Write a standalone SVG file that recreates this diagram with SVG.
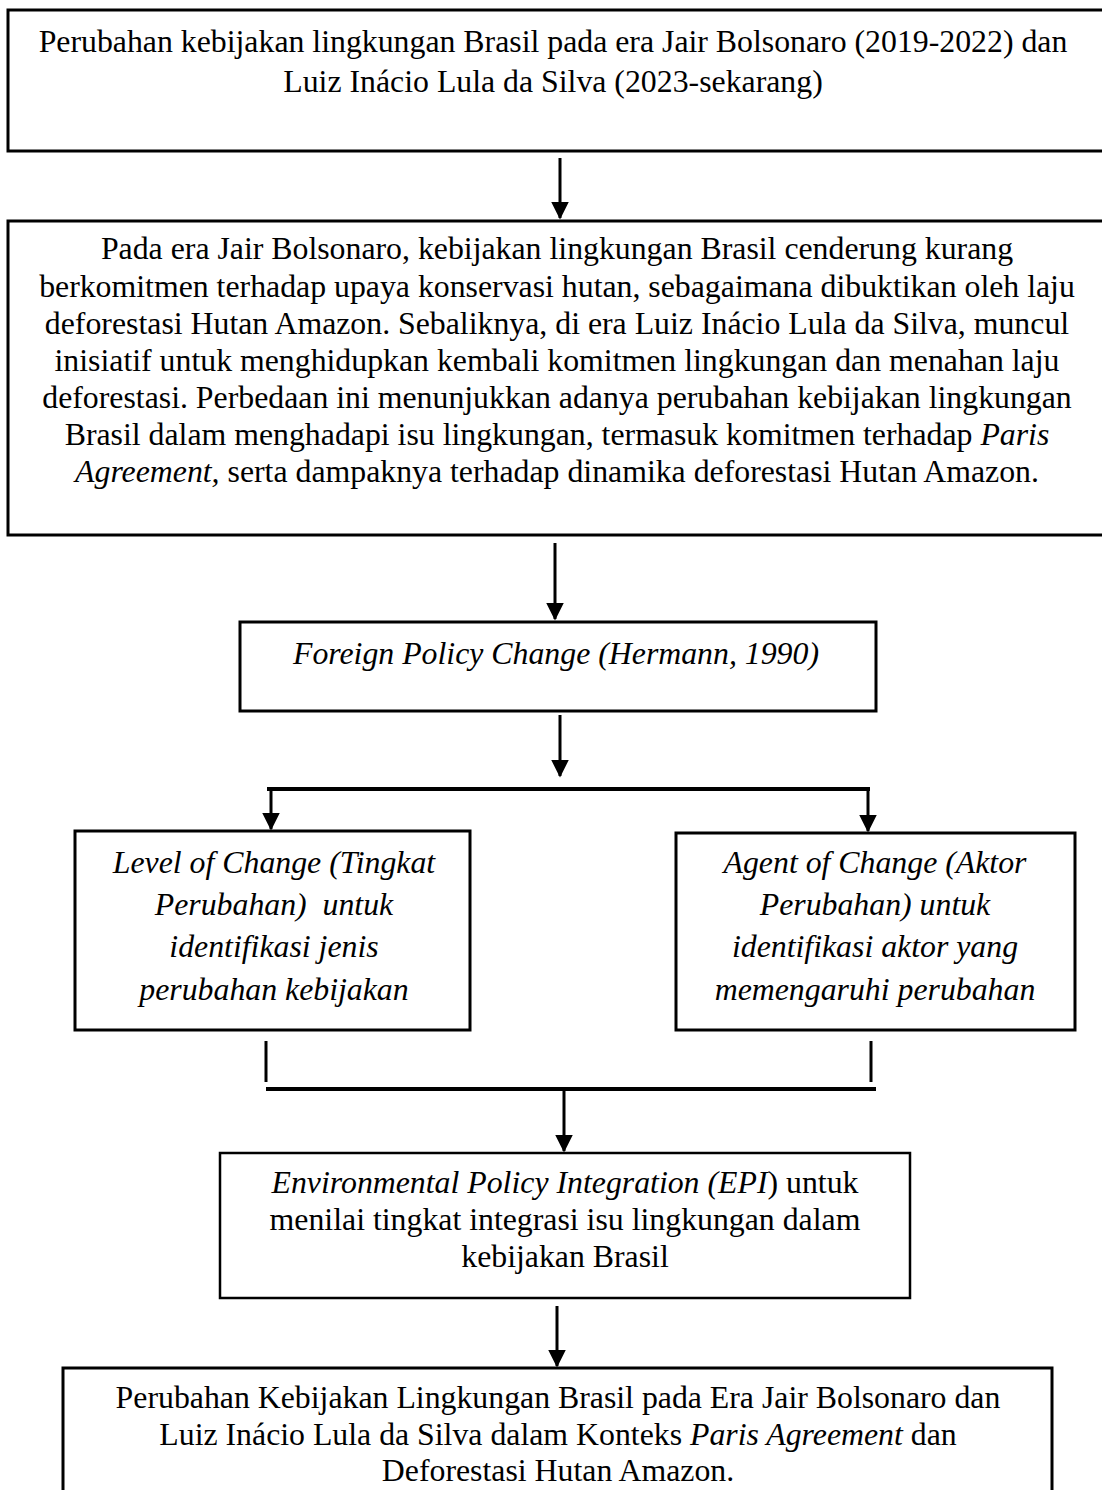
<svg xmlns="http://www.w3.org/2000/svg" width="1102" height="1490" viewBox="0 0 1102 1490">
<style>
text{font-family:"Liberation Serif","Times New Roman",serif;font-size:31.8px;fill:#000;text-anchor:middle}
.i{font-style:italic}
.box{fill:#fff;stroke:#000;stroke-width:3}
.thin{stroke-width:2.5}
.ln{stroke:#000;stroke-width:3;fill:none}
.bar{stroke:#000;stroke-width:4;fill:none}
</style>
<defs>
<marker id="ah" markerWidth="6" markerHeight="6" refX="5.5" refY="3" orient="auto" markerUnits="strokeWidth" viewBox="0 0 6 6">
<path d="M0,0 L6,3 L0,6 Z" fill="#000"/>
</marker>
</defs>
<rect width="1102" height="1490" fill="#fff"/>
<g id="connectors">
<line class="ln" x1="560" y1="158" x2="560" y2="218" marker-end="url(#ah)"/>
<line class="ln" x1="555" y1="543" x2="555" y2="619" marker-end="url(#ah)"/>
<line class="ln" x1="560" y1="715" x2="560" y2="776" marker-end="url(#ah)"/>
<line class="bar" x1="267" y1="789" x2="870" y2="789"/>
<line class="ln" x1="271" y1="789" x2="271" y2="829" marker-end="url(#ah)"/>
<line class="ln" x1="868" y1="789" x2="868" y2="831" marker-end="url(#ah)"/>
<line class="ln" x1="266" y1="1041" x2="266" y2="1082"/>
<line class="ln" x1="871" y1="1041" x2="871" y2="1082"/>
<line class="bar" x1="266" y1="1089" x2="876" y2="1089"/>
<line class="ln" x1="564" y1="1089" x2="564" y2="1151" marker-end="url(#ah)"/>
<line class="ln" x1="557" y1="1306" x2="557" y2="1366" marker-end="url(#ah)"/>
</g>
<g id="node-1">
<rect class="box" x="8" y="10" width="1100" height="141"/>
<text x="553" y="52">Perubahan kebijakan lingkungan Brasil pada era Jair Bolsonaro (2019-2022) dan</text>
<text x="553" y="92">Luiz Inácio Lula da Silva (2023-sekarang)</text>
</g>
<g id="node-2">
<rect class="box" x="8" y="221" width="1100" height="314"/>
<text x="557" y="259">Pada era Jair Bolsonaro, kebijakan lingkungan Brasil cenderung kurang</text>
<text x="557" y="297">berkomitmen terhadap upaya konservasi hutan, sebagaimana dibuktikan oleh laju</text>
<text x="557" y="334">deforestasi Hutan Amazon. Sebaliknya, di era Luiz Inácio Lula da Silva, muncul</text>
<text x="557" y="371">inisiatif untuk menghidupkan kembali komitmen lingkungan dan menahan laju</text>
<text x="557" y="408">deforestasi. Perbedaan ini menunjukkan adanya perubahan kebijakan lingkungan</text>
<text x="557" y="445">Brasil dalam menghadapi isu lingkungan, termasuk komitmen terhadap <tspan class="i">Paris</tspan></text>
<text x="557" y="482"><tspan class="i">Agreement,</tspan> serta dampaknya terhadap dinamika deforestasi Hutan Amazon.</text>
</g>
<g id="node-3">
<rect class="box" x="240" y="622" width="636" height="89"/>
<text class="i" x="556" y="664">Foreign Policy Change (Hermann, 1990)</text>
</g>
<g id="node-4">
<rect class="box" x="75" y="831" width="395" height="199"/>
<text class="i" x="274" y="873">Level of Change (Tingkat</text>
<text class="i" x="274" y="915" xml:space="preserve">Perubahan)  untuk</text>
<text class="i" x="274" y="957">identifikasi jenis</text>
<text class="i" x="274" y="1000">perubahan kebijakan</text>
</g>
<g id="node-5">
<rect class="box" x="676" y="833" width="399" height="197"/>
<text class="i" x="875" y="873">Agent of Change (Aktor</text>
<text class="i" x="875" y="915">Perubahan) untuk</text>
<text class="i" x="875" y="957">identifikasi aktor yang</text>
<text class="i" x="875" y="1000">memengaruhi perubahan</text>
</g>
<g id="node-6">
<rect class="box thin" x="220" y="1153" width="690" height="145"/>
<text x="565" y="1193"><tspan class="i">Environmental Policy Integration (EPI</tspan>) untuk</text>
<text x="565" y="1230">menilai tingkat integrasi isu lingkungan dalam</text>
<text x="565" y="1267">kebijakan Brasil</text>
</g>
<g id="node-7">
<rect class="box" x="63" y="1368" width="989" height="140"/>
<text x="558" y="1408">Perubahan Kebijakan Lingkungan Brasil pada Era Jair Bolsonaro dan</text>
<text x="558" y="1445">Luiz Inácio Lula da Silva dalam Konteks <tspan class="i">Paris Agreement</tspan> dan</text>
<text x="558" y="1481">Deforestasi Hutan Amazon.</text>
</g>
</svg>
